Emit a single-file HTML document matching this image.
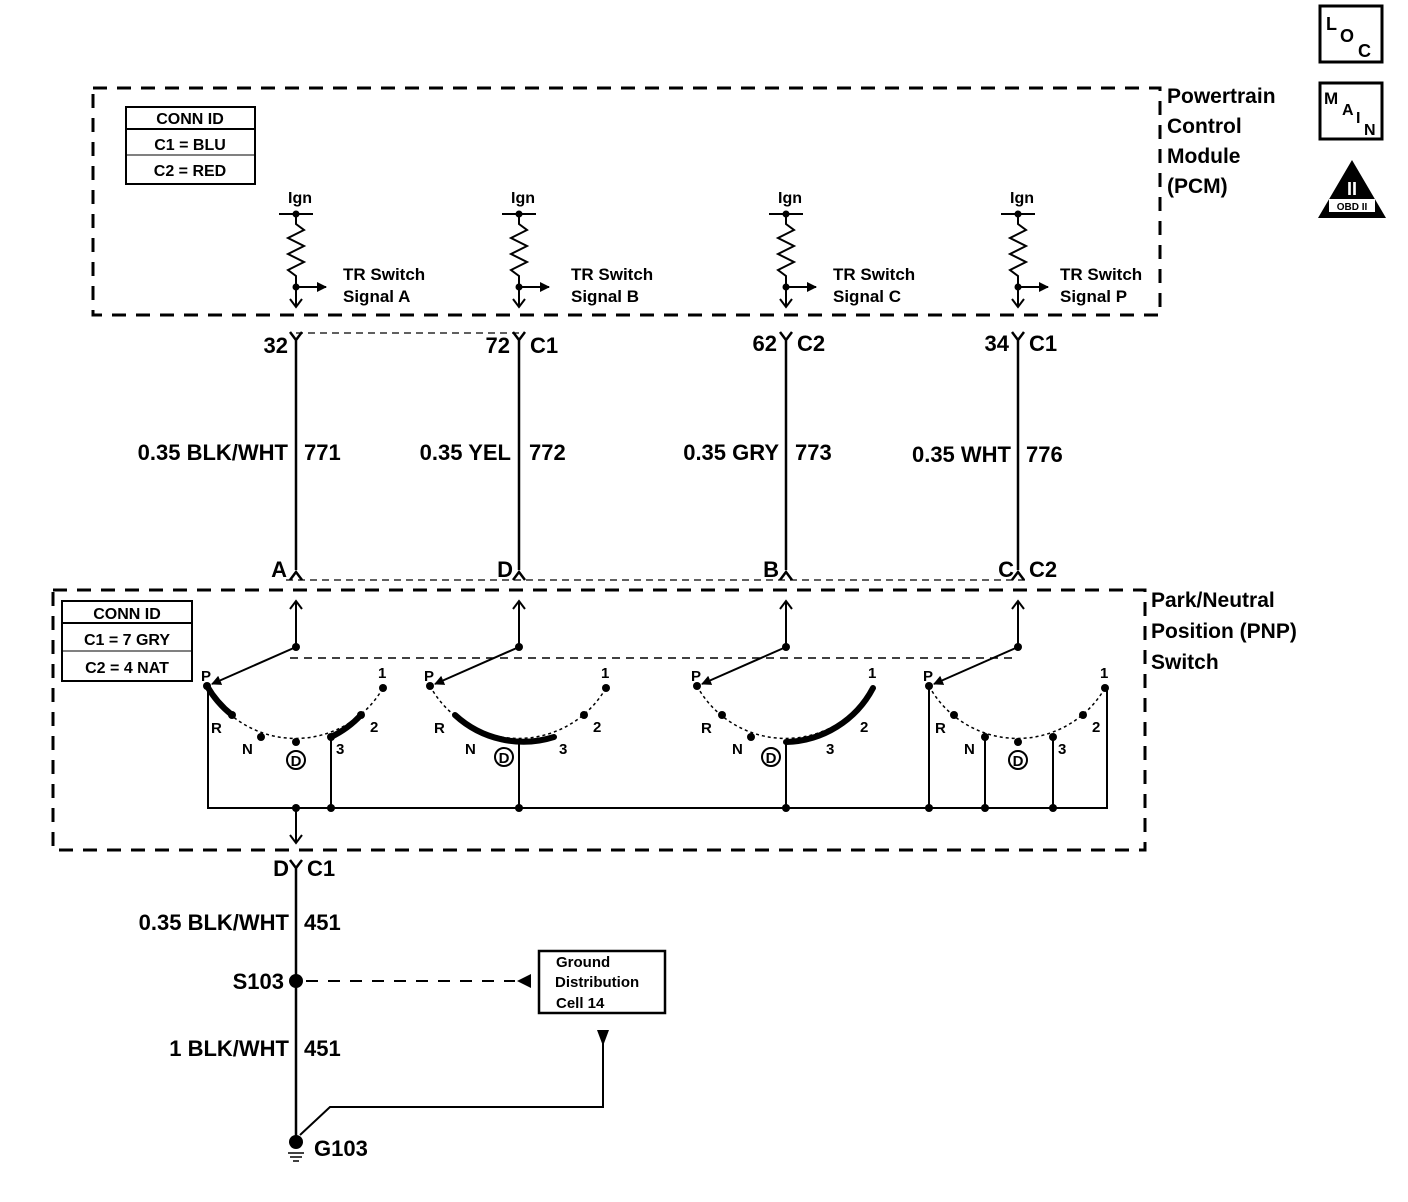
<!DOCTYPE html>
<html><head><meta charset="utf-8"><style>
html,body{margin:0;padding:0;background:#fff;}
svg{display:block;}
text{font-family:"Liberation Sans",sans-serif;fill:#000;font-weight:bold;}
</style></head><body>
<svg width="1408" height="1202" viewBox="0 0 1408 1202" xmlns="http://www.w3.org/2000/svg">
<defs>
<marker id="ah" markerWidth="10" markerHeight="10" refX="9" refY="5" orient="auto" markerUnits="userSpaceOnUse"><path d="M0,0 L10,5 L0,10 z" fill="#000"/></marker>
</defs>
<g stroke="#000" fill="none">
<rect x="93" y="88" width="1067" height="227" stroke-width="3" stroke-dasharray="14,10"/>
<rect x="53" y="590" width="1092" height="260" stroke-width="3" stroke-dasharray="14,10"/>
<rect x="126" y="107" width="129" height="77" stroke-width="2"/>
<line x1="126" y1="129" x2="255" y2="129" stroke-width="2"/>
<line x1="126" y1="155" x2="255" y2="155" stroke-width="1"/>
<rect x="62" y="601" width="130" height="80" stroke-width="2"/>
<line x1="62" y1="623" x2="192" y2="623" stroke-width="2"/>
<line x1="62" y1="651" x2="192" y2="651" stroke-width="1"/>
<line x1="296" y1="333" x2="519" y2="333" stroke-width="1.2" stroke-dasharray="7,5"/>
<line x1="286" y1="580" x2="1030" y2="580" stroke-width="1.2" stroke-dasharray="7,5"/>
<line x1="290" y1="658" x2="1018" y2="658" stroke-width="1.5" stroke-dasharray="8,6"/>
<polyline points="208,686 208,808 1107,808 1107,688" stroke-width="2"/>
<path d="M296,808 L296,842 M290,835 L296,843 L302,835" stroke-width="2"/>
<path d="M290,860 L296,868 L302,860 M296,868 L296,1142" stroke-width="2.5"/>
<line x1="306" y1="981" x2="515" y2="981" stroke-width="2" stroke-dasharray="12,10"/>
<rect x="539" y="951" width="126" height="62" stroke-width="2.5"/>
<polyline points="603,1040 603,1107 330,1107 300,1135" stroke-width="2"/>
<line x1="288" y1="1153" x2="304" y2="1153" stroke-width="1.5"/>
<line x1="290" y1="1157" x2="302" y2="1157" stroke-width="1.5"/>
<line x1="293" y1="1161" x2="299" y2="1161" stroke-width="1.5"/>
</g>
<path d="M517,981 L531,974 L531,988 z"/>
<path d="M597,1030 L609,1030 L603,1046 z"/>
<circle cx="296" cy="981" r="7"/>
<circle cx="296" cy="1142" r="7"/>

<g transform="translate(296,0)">
<g stroke="#000" fill="none" stroke-width="2">
<line x1="-17" y1="214" x2="17" y2="214"/>
<polyline points="0,214 0,224 8,230 -8,238 8,246 -8,254 8,262 -8,270 0,276 0,287"/>
<path d="M0,287 L0,306 M-6,299 L0,307 L6,299"/>
<line x1="0" y1="287" x2="30" y2="287" marker-end="url(#ah)"/>
<path d="M-6,332 L0,340 L6,332 M0,340 L0,570 M-6,580 L0,572 L6,580" stroke-width="2.5"/>
<path d="M0,647 L0,601 M-6,609 L0,601 L6,609"/>
<line x1="0" y1="647" x2="-84" y2="684" marker-end="url(#ah)"/>
<path d="M-89,686 A101 101 0 0 0 87,688" stroke-width="1.5" stroke-dasharray="3,3"/>
</g>
<circle cx="0" cy="214" r="3.5"/><circle cx="0" cy="287" r="3.5"/><circle cx="0" cy="647" r="4"/>
<circle cx="-89" cy="686" r="4"/><circle cx="-64" cy="715" r="4"/><circle cx="-35" cy="737" r="4"/><circle cx="0" cy="742" r="4"/><circle cx="35" cy="737" r="4"/><circle cx="65" cy="715" r="4"/><circle cx="87" cy="688" r="4"/>
<circle cx="0" cy="760" r="9" fill="none" stroke="#000" stroke-width="2"/>
<text x="0" y="766" font-size="15" text-anchor="middle">D</text>
<text x="-95" y="681" font-size="15">P</text>
<text x="82" y="678" font-size="15">1</text>
<text x="-85" y="733" font-size="15">R</text>
<text x="-54" y="754" font-size="15">N</text>
<text x="40" y="754" font-size="15">3</text>
<text x="74" y="732" font-size="15">2</text>
<text x="4" y="203" font-size="16" text-anchor="middle">Ign</text>
<text x="47" y="280" font-size="17">TR Switch</text>
</g>

<g transform="translate(519,0)">
<g stroke="#000" fill="none" stroke-width="2">
<line x1="-17" y1="214" x2="17" y2="214"/>
<polyline points="0,214 0,224 8,230 -8,238 8,246 -8,254 8,262 -8,270 0,276 0,287"/>
<path d="M0,287 L0,306 M-6,299 L0,307 L6,299"/>
<line x1="0" y1="287" x2="30" y2="287" marker-end="url(#ah)"/>
<path d="M-6,332 L0,340 L6,332 M0,340 L0,570 M-6,580 L0,572 L6,580" stroke-width="2.5"/>
<path d="M0,647 L0,601 M-6,609 L0,601 L6,609"/>
<line x1="0" y1="647" x2="-84" y2="684" marker-end="url(#ah)"/>
<path d="M-89,686 A101 101 0 0 0 87,688" stroke-width="1.5" stroke-dasharray="3,3"/>
<line x1="0" y1="742" x2="0" y2="808"/>
</g>
<circle cx="0" cy="214" r="3.5"/><circle cx="0" cy="287" r="3.5"/><circle cx="0" cy="647" r="4"/><circle cx="0" cy="808" r="4"/>
<circle cx="-89" cy="686" r="4"/><circle cx="65" cy="715" r="4"/><circle cx="87" cy="688" r="4"/>
<circle cx="-15" cy="757" r="9" fill="#fff" stroke="#000" stroke-width="2"/>
<text x="-15" y="763" font-size="15" text-anchor="middle">D</text>
<text x="-95" y="681" font-size="15">P</text>
<text x="82" y="678" font-size="15">1</text>
<text x="-85" y="733" font-size="15">R</text>
<text x="-54" y="754" font-size="15">N</text>
<text x="40" y="754" font-size="15">3</text>
<text x="74" y="732" font-size="15">2</text>
<text x="4" y="203" font-size="16" text-anchor="middle">Ign</text>
<text x="52" y="280" font-size="17">TR Switch</text>
</g>

<g transform="translate(786,0)">
<g stroke="#000" fill="none" stroke-width="2">
<line x1="-17" y1="214" x2="17" y2="214"/>
<polyline points="0,214 0,224 8,230 -8,238 8,246 -8,254 8,262 -8,270 0,276 0,287"/>
<path d="M0,287 L0,306 M-6,299 L0,307 L6,299"/>
<line x1="0" y1="287" x2="30" y2="287" marker-end="url(#ah)"/>
<path d="M-6,332 L0,340 L6,332 M0,340 L0,570 M-6,580 L0,572 L6,580" stroke-width="2.5"/>
<path d="M0,647 L0,601 M-6,609 L0,601 L6,609"/>
<line x1="0" y1="647" x2="-84" y2="684" marker-end="url(#ah)"/>
<path d="M-89,686 A101 101 0 0 0 87,688" stroke-width="1.5" stroke-dasharray="3,3"/>
<line x1="0" y1="742" x2="0" y2="808"/>
</g>
<circle cx="0" cy="214" r="3.5"/><circle cx="0" cy="287" r="3.5"/><circle cx="0" cy="647" r="4"/><circle cx="0" cy="808" r="4"/>
<circle cx="-89" cy="686" r="4"/><circle cx="-64" cy="715" r="4"/><circle cx="-35" cy="737" r="4"/>
<circle cx="-15" cy="757" r="9" fill="#fff" stroke="#000" stroke-width="2"/>
<text x="-15" y="763" font-size="15" text-anchor="middle">D</text>
<text x="-95" y="681" font-size="15">P</text>
<text x="82" y="678" font-size="15">1</text>
<text x="-85" y="733" font-size="15">R</text>
<text x="-54" y="754" font-size="15">N</text>
<text x="40" y="754" font-size="15">3</text>
<text x="74" y="732" font-size="15">2</text>
<text x="4" y="203" font-size="16" text-anchor="middle">Ign</text>
<text x="47" y="280" font-size="17">TR Switch</text>
</g>

<g transform="translate(1018,0)">
<g stroke="#000" fill="none" stroke-width="2">
<line x1="-17" y1="214" x2="17" y2="214"/>
<polyline points="0,214 0,224 8,230 -8,238 8,246 -8,254 8,262 -8,270 0,276 0,287"/>
<path d="M0,287 L0,306 M-6,299 L0,307 L6,299"/>
<line x1="0" y1="287" x2="30" y2="287" marker-end="url(#ah)"/>
<path d="M-6,332 L0,340 L6,332 M0,340 L0,570 M-6,580 L0,572 L6,580" stroke-width="2.5"/>
<path d="M0,647 L0,601 M-6,609 L0,601 L6,609"/>
<line x1="0" y1="647" x2="-84" y2="684" marker-end="url(#ah)"/>
<path d="M-89,686 A101 101 0 0 0 87,688" stroke-width="1.5" stroke-dasharray="3,3"/>
<line x1="-89" y1="686" x2="-89" y2="808"/>
<line x1="-33" y1="737" x2="-33" y2="808"/>
<line x1="35" y1="737" x2="35" y2="808"/>
</g>
<circle cx="0" cy="214" r="3.5"/><circle cx="0" cy="287" r="3.5"/><circle cx="0" cy="647" r="4"/>
<circle cx="-89" cy="808" r="4"/><circle cx="-33" cy="808" r="4"/><circle cx="35" cy="808" r="4"/>
<circle cx="-89" cy="686" r="4"/><circle cx="-64" cy="715" r="4"/><circle cx="-33" cy="737" r="4"/><circle cx="0" cy="742" r="4"/><circle cx="35" cy="737" r="4"/><circle cx="65" cy="715" r="4"/><circle cx="87" cy="688" r="4"/>
<circle cx="0" cy="760" r="9" fill="none" stroke="#000" stroke-width="2"/>
<text x="0" y="766" font-size="15" text-anchor="middle">D</text>
<text x="-95" y="681" font-size="15">P</text>
<text x="82" y="678" font-size="15">1</text>
<text x="-83" y="733" font-size="15">R</text>
<text x="-54" y="754" font-size="15">N</text>
<text x="40" y="754" font-size="15">3</text>
<text x="74" y="732" font-size="15">2</text>
<text x="4" y="203" font-size="16" text-anchor="middle">Ign</text>
<text x="42" y="280" font-size="17">TR Switch</text>
</g>

<g stroke="#000" fill="none" stroke-width="6" stroke-linecap="round">
<path d="M207,686 A101 101 0 0 0 232,715"/>
<path d="M331,737 A101 101 0 0 0 361,715"/>
<path d="M455,715 A101 101 0 0 0 554,737"/>
<path d="M786,742 A101 101 0 0 0 873,688"/>
</g>
<circle cx="296" cy="808" r="4"/><circle cx="331" cy="808" r="4"/>
<line x1="331" y1="737" x2="331" y2="808" stroke="#000" stroke-width="2"/>

<g font-size="17">
<text x="343" y="302">Signal A</text>
<text x="571" y="302">Signal B</text>
<text x="833" y="302">Signal C</text>
<text x="1060" y="302">Signal P</text>
</g>
<g font-size="16" text-anchor="middle">
<text x="190" y="124">CONN ID</text>
<text x="190" y="150">C1 = BLU</text>
<text x="190" y="176">C2 = RED</text>
<text x="127" y="619">CONN ID</text>
<text x="127" y="645">C1 = 7 GRY</text>
<text x="127" y="673">C2 = 4 NAT</text>
</g>
<g font-size="21">
<text x="1167" y="103">Powertrain</text>
<text x="1167" y="133">Control</text>
<text x="1167" y="163">Module</text>
<text x="1167" y="193">(PCM)</text>
<text x="1151" y="607">Park/Neutral</text>
<text x="1151" y="638">Position (PNP)</text>
<text x="1151" y="669">Switch</text>
</g>
<g font-size="22">
<text x="288" y="353" text-anchor="end">32</text>
<text x="510" y="353" text-anchor="end">72</text><text x="530" y="353">C1</text>
<text x="777" y="351" text-anchor="end">62</text><text x="797" y="351">C2</text>
<text x="1009" y="351" text-anchor="end">34</text><text x="1029" y="351">C1</text>
<text x="288" y="460" text-anchor="end">0.35 BLK/WHT</text><text x="304" y="460">771</text>
<text x="511" y="460" text-anchor="end">0.35 YEL</text><text x="529" y="460">772</text>
<text x="779" y="460" text-anchor="end">0.35 GRY</text><text x="795" y="460">773</text>
<text x="1011" y="462" text-anchor="end">0.35 WHT</text><text x="1026" y="462">776</text>
<text x="287" y="577" text-anchor="end">A</text>
<text x="513" y="577" text-anchor="end">D</text>
<text x="779" y="577" text-anchor="end">B</text>
<text x="1014" y="577" text-anchor="end">C</text><text x="1029" y="577">C2</text>
<text x="289" y="876" text-anchor="end">D</text><text x="307" y="876">C1</text>
<text x="289" y="930" text-anchor="end">0.35 BLK/WHT</text><text x="304" y="930">451</text>
<text x="284" y="989" text-anchor="end">S103</text>
<text x="289" y="1056" text-anchor="end">1 BLK/WHT</text><text x="304" y="1056">451</text>
<text x="314" y="1156">G103</text>
</g>
<g font-size="15">
<text x="556" y="967">Ground</text>
<text x="555" y="987">Distribution</text>
<text x="556" y="1008">Cell 14</text>
</g>
<rect x="1320" y="6" width="62" height="56" fill="none" stroke="#000" stroke-width="3"/>
<text x="1326" y="30" font-size="18">L</text>
<text x="1340" y="42" font-size="18">O</text>
<text x="1358" y="57" font-size="18">C</text>
<rect x="1320" y="83" width="62" height="56" fill="none" stroke="#000" stroke-width="3"/>
<text x="1324" y="104" font-size="17">M</text>
<text x="1342" y="115" font-size="16">A</text>
<text x="1356" y="123" font-size="16">I</text>
<text x="1364" y="135" font-size="16">N</text>
<path d="M1352,160 L1386,218 L1318,218 z"/>
<text x="1352" y="195" font-size="18" text-anchor="middle" style="fill:#fff">II</text>
<rect x="1329" y="199" width="46" height="13" fill="#fff"/>
<text x="1352" y="210" font-size="10" text-anchor="middle">OBD II</text>
</svg>
</body></html>
